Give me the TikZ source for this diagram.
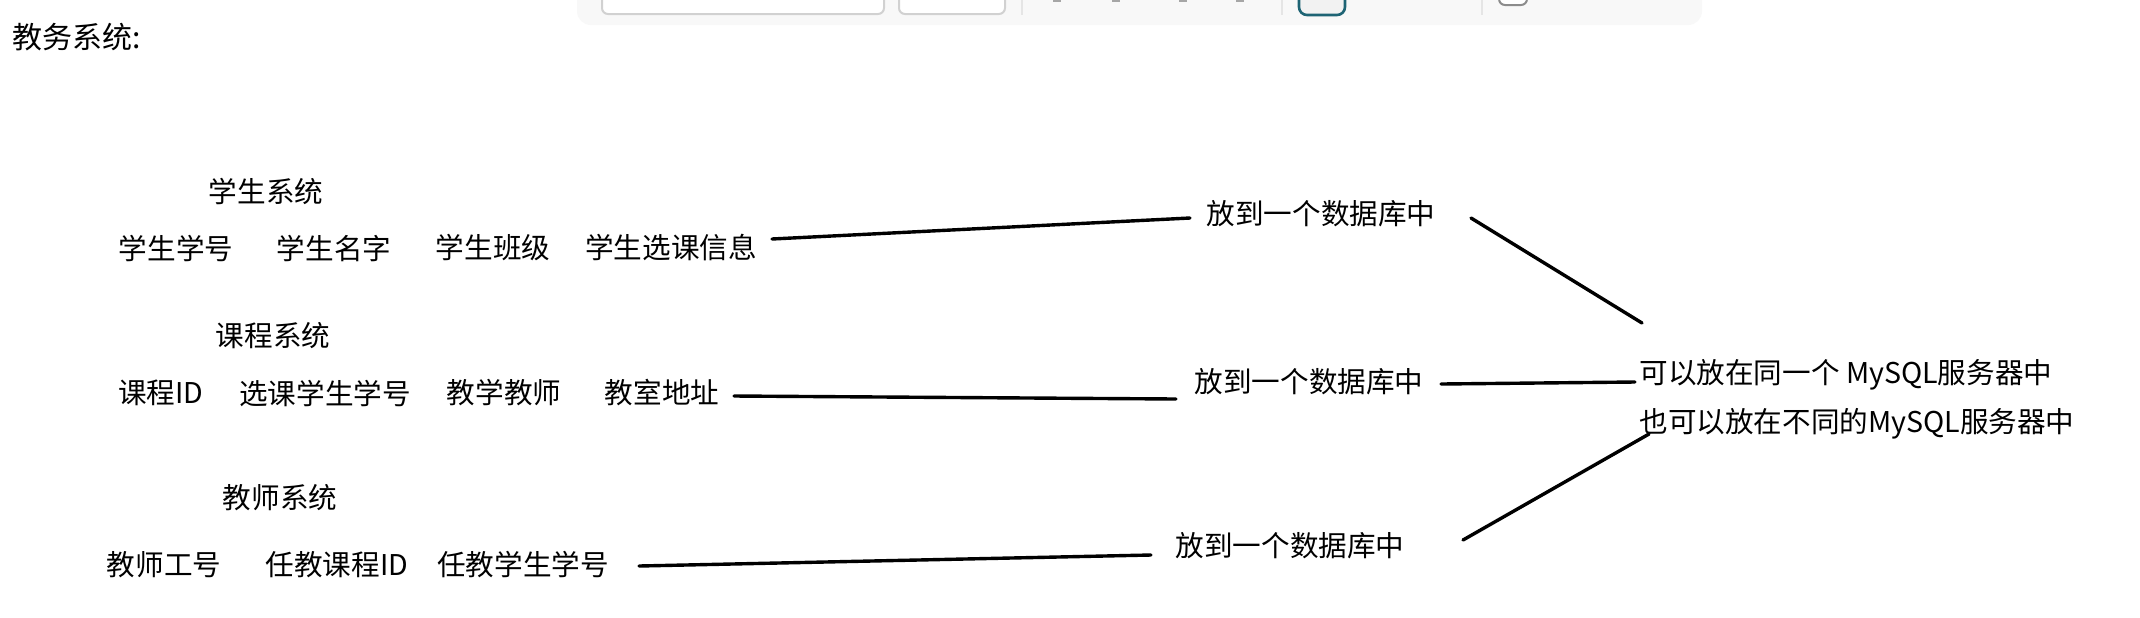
\documentclass[tikz,border=0pt]{standalone}
\usepackage{fontspec}
\newfontfamily\cjk{Noto Sans CJK SC}
\definecolor{panel}{HTML}{F8F8F8}
\definecolor{tealb}{HTML}{1E6474}
\begin{document}
\begin{tikzpicture}[x=0.5pt,y=-0.5pt,
  txt/.style={font=\cjk\fontsize{14.3pt}{16pt}\selectfont, inner sep=0pt},
  conn/.style={line width=1.7pt, line cap=round}]
\useasboundingbox (0,0) rectangle (2140,617);
\clip (0,0) rectangle (2140,617);
\fill[white] (0,0) rectangle (2140,617);
% toolbar fragment
\fill[panel, rounded corners=7pt] (577,-30) rectangle (1702,25);
\draw[fill=white, draw=black!18, line width=1pt, rounded corners=3pt] (602,-12) rectangle (884,14);
\draw[fill=white, draw=black!18, line width=1pt, rounded corners=3pt] (899,-12) rectangle (1005,14);
\draw[black!10, line width=1pt] (1022,0) -- (1022,15);
\draw[black!10, line width=1pt] (1282,0) -- (1282,15);
\draw[black!10, line width=1pt] (1482,0) -- (1482,15);
\foreach \mx in {1057,1116,1183,1240} \fill[black!35] (\mx-4,0) rectangle (\mx+4,1.5);
\draw[fill=black!5, draw=tealb, line width=1.3pt, rounded corners=4pt] (1299,-12) rectangle (1345,15);
\draw[fill=white, draw=black!45, line width=1pt, rounded corners=3pt] (1499,-12) rectangle (1527,5);
% heading
\node[txt, anchor=west, font=\cjk\fontsize{15pt}{17pt}\selectfont] (title) at (12,37) {教务系统:};
% student system
\node[txt] (sys1) at (266,191) {学生系统};
\node[txt] (s1) at (176,248) {学生学号};
\node[txt] (s2) at (334,248) {学生名字};
\node[txt] (s3) at (493,248) {学生班级};
\node[txt] (s4) at (671,248) {学生选课信息};
\node[txt] (db1) at (1321,214) {放到一个数据库中};
% course system
\node[txt] (sys2) at (273,336) {课程系统};
\node[txt] (c1) at (161,393) {课程ID};
\node[txt] (c2) at (325,393) {选课学生学号};
\node[txt] (c3) at (504,393) {教学教师};
\node[txt] (c4) at (662,393) {教室地址};
\node[txt] (db2) at (1309,382) {放到一个数据库中};
% teacher system
\node[txt] (sys3) at (280,498) {教师系统};
\node[txt] (t1) at (164,565) {教师工号};
\node[txt] (t2) at (337,565) {任教课程ID};
\node[txt] (t3) at (523,565) {任教学生学号};
\node[txt] (db3) at (1290,546) {放到一个数据库中};
% server texts
\node[txt, anchor=west] (srv1) at (1639,375) {可以放在同一个 MySQL服务器中};
\node[txt, anchor=west] (srv2) at (1639,424) {也可以放在不同的MySQL服务器中};
% connector endpoints
\coordinate (a1) at (772,239);  \coordinate (b1) at (1190,218);
\coordinate (a2) at (734,396);  \coordinate (b2) at (1176,399);
\coordinate (a3) at (639,566);  \coordinate (b3) at (1151,555);
\coordinate (d1) at (1471,218); \coordinate (e1) at (1642,323);
\coordinate (d2) at (1441,384); \coordinate (e2) at (1635,382);
\coordinate (d3) at (1463,540); \coordinate (e3) at (1649,434);
\draw[conn] (a1) -- (b1);
\draw[conn] (a2) -- (b2);
\draw[conn] (a3) -- (b3);
\draw[conn] (d1) -- (e1);
\draw[conn] (d2) -- (e2);
\draw[conn] (d3) -- (e3);
\end{tikzpicture}
\end{document}
